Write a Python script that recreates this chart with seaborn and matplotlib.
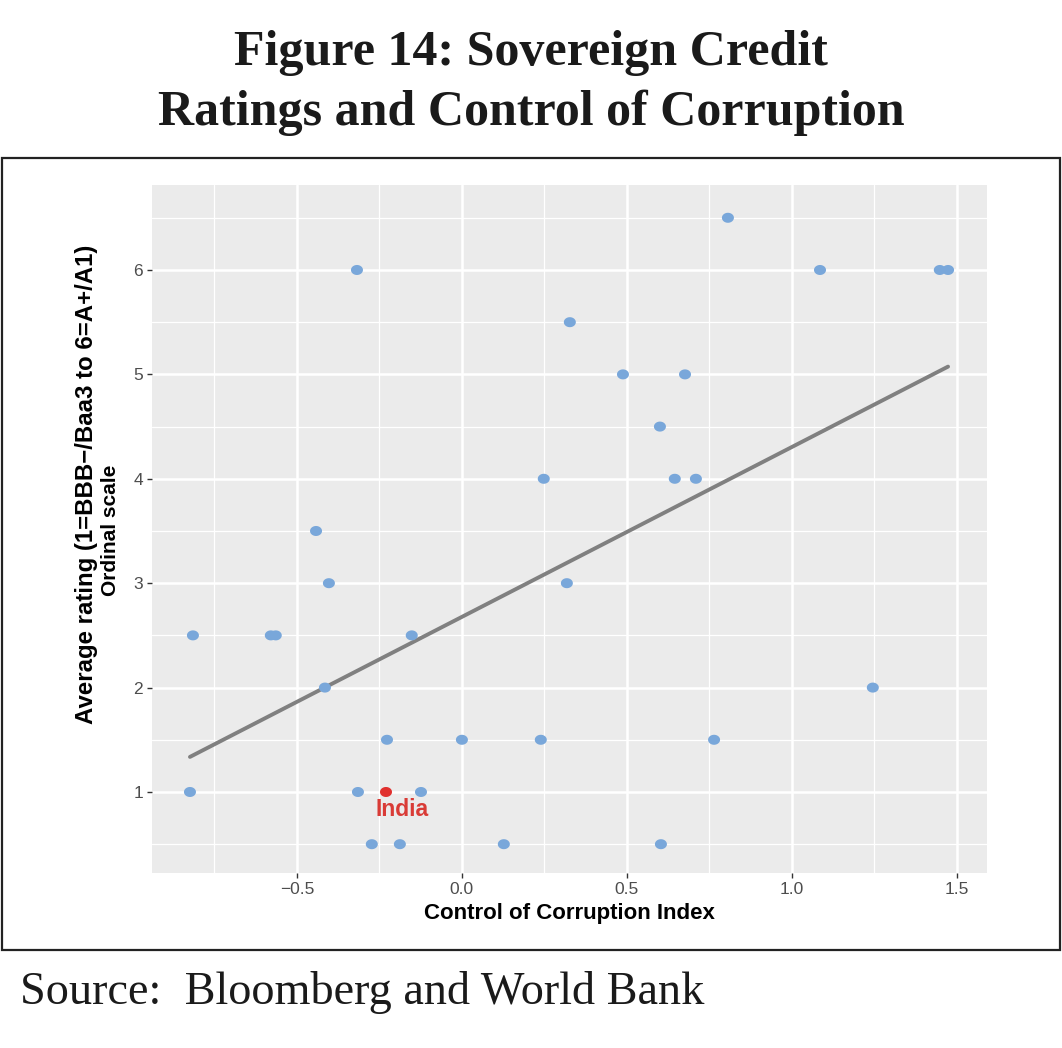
import matplotlib
matplotlib.use("Agg")
import matplotlib.pyplot as plt
import matplotlib.patches as mpatches
from matplotlib.path import Path
from matplotlib.ticker import MultipleLocator, FixedLocator
import seaborn as sns
import pandas as pd
import numpy as np

# ---- data ----
corruption = [0.806, -0.318, 1.085, 1.448, 1.473, 0.327, 0.488, 0.676, 0.600,
              0.248, 0.645, 0.709, -0.442, -0.403, 0.318, -0.815, -0.579, -0.564,
              -0.152, -0.415, 1.245, -0.227, 0.000, 0.239, 0.764, -0.824, -0.315,
              -0.230, -0.124, -0.273, -0.188, 0.127, 0.603]
rating = [6.5, 6, 6, 6, 6, 5.5, 5, 5, 4.5,
          4, 4, 4, 3.5, 3, 3, 2.5, 2.5, 2.5,
          2.5, 2, 2, 1.5, 1.5, 1.5, 1.5, 1, 1,
          1, 1, 0.5, 0.5, 0.5, 0.5]
country = ["Other"] * len(corruption)
country[27] = "India"

x_ticks = [-0.5, 0.0, 0.5, 1.0, 1.5]
x_tick_labels = ["\u22120.5", "0.0", "0.5", "1.0", "1.5"]
y_ticks = [1, 2, 3, 4, 5, 6]

df = pd.DataFrame({"cc": corruption, "rating": rating, "country": country})

sns.set_theme(style="darkgrid")
plt.rcParams["font.family"] = ["Liberation Sans", "DejaVu Sans"]

# slightly wide elliptical dot, as in the reference
t = np.linspace(0, 2 * np.pi, 40)
ellipse = Path(np.column_stack([1.2 * np.cos(t), np.sin(t)]), closed=True)

fig = plt.figure(figsize=(10.62, 10.48), dpi=100)
ax = fig.add_axes([152 / 1062, 1 - 873 / 1048, (987 - 152) / 1062, (873 - 185) / 1048])
ax.set_facecolor("#EBEBEB")

sns.regplot(data=df, x="cc", y="rating", ci=None, scatter=False, ax=ax,
            line_kws=dict(color="#808080", lw=2.8, zorder=3))
others = df[df.country != "India"]
india = df[df.country == "India"]
sns.scatterplot(data=others, x="cc", y="rating", ax=ax, color="#79A7DA", s=75,
                marker=ellipse, edgecolor="none", zorder=4, legend=False)
sns.scatterplot(data=india, x="cc", y="rating", ax=ax, color="#E0302E", s=75,
                marker=ellipse, edgecolor="none", zorder=5, legend=False)
for _, r in india.iterrows():
    ax.annotate(r["country"], (r["cc"], r["rating"]), xytext=(11.5, -12.5),
                textcoords="offset points", ha="center", va="center",
                color="#D93B36", fontsize=16.5, fontweight="bold")

ax.set_xlim(-0.939, 1.591)
ax.set_ylim(0.224, 6.814)
ax.xaxis.set_major_locator(FixedLocator(x_ticks))
ax.set_xticklabels(x_tick_labels)
ax.yaxis.set_major_locator(FixedLocator(y_ticks))
ax.xaxis.set_minor_locator(MultipleLocator(0.25))
ax.yaxis.set_minor_locator(MultipleLocator(0.5))
ax.grid(which="major", color="white", lw=1.8)
ax.grid(which="minor", color="white", lw=0.9)
for s in ax.spines.values():
    s.set_visible(False)
ax.tick_params(which="major", length=3.5, width=1.0, color="#333333",
               labelcolor="#4D4D4D", labelsize=12.5, pad=3, left=True, bottom=True)
ax.tick_params(which="minor", length=0)

ax.set_xlabel("Control of Corruption Index", fontsize=16, fontweight="bold",
              color="black", labelpad=4)
ax.set_ylabel("Average rating (1=BBB\u2212/Baa3 to 6=A+/A1)",
              fontsize=17.3, fontweight="bold", color="black")
ax.yaxis.set_label_coords(87 / 1062, 1 - 484 / 1048, transform=fig.transFigure)
ax.yaxis.label.set_va("center")
ax.yaxis.label.set_ha("center")
fig.text(110 / 1062, 1 - 530 / 1048, "Ordinal scale", rotation=90,
         ha="center", va="center", fontsize=15, fontweight="bold", color="black")

# frame around the chart panel
fig.patches.append(mpatches.Rectangle((2 / 1062, 1 - 950 / 1048), 1058 / 1062, 792 / 1048,
                                      transform=fig.transFigure, fill=False,
                                      edgecolor="#222222", lw=1.6))

fig.text(0.5, 1 - 83 / 1048, "Figure 14: Sovereign Credit\nRatings and Control of Corruption",
         ha="center", va="center", fontsize=36, fontweight="bold",
         family=["Liberation Serif", "DejaVu Serif"], color="#1a1a1a", linespacing=1.4)
fig.text(20 / 1062, 1 - 993 / 1048, "Source:  Bloomberg and World Bank",
         ha="left", va="center", fontsize=33.3,
         family=["Liberation Serif", "DejaVu Serif"], color="#1a1a1a")

fig.savefig("out.png", dpi=100, facecolor="white")
